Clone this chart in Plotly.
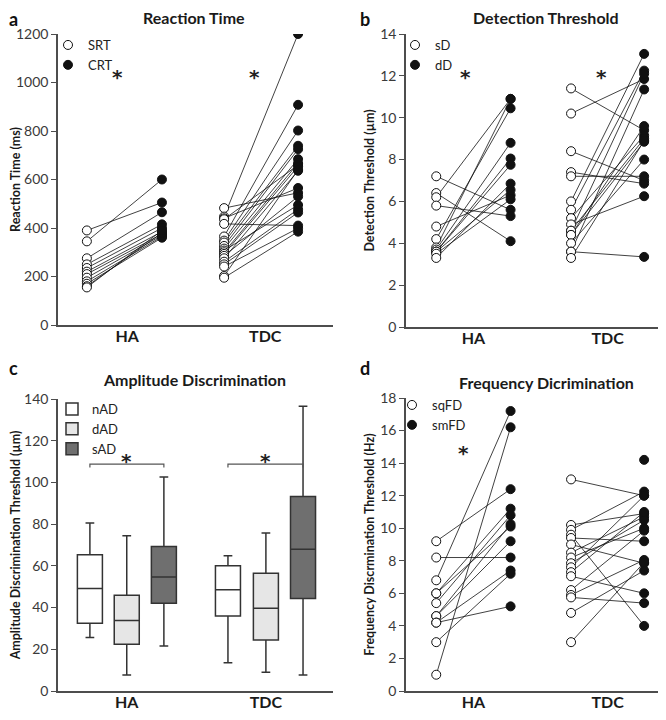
import plotly.graph_objects as go

# a: reaction time (ms), paired SRT -> CRT
srt_ha = [390, 345, 275, 250, 235, 220, 210, 195, 180, 170, 160, 155]
crt_ha = [505, 600, 465, 415, 400, 385, 375, 370, 365, 360, 380, 390]
srt_tdc = [482, 447, 440, 436, 417, 365, 348, 340, 326, 315, 307, 300, 293, 285, 275, 261, 250, 241, 202, 195]
crt_tdc = [545, 1200, 565, 660, 410, 908, 802, 739, 725, 684, 495, 667, 654, 530, 636, 477, 464, 399, 640, 385]

# b: detection threshold (um), paired sD -> dD
sd_ha = [7.2, 6.4, 6.2, 5.8, 4.8, 4.2, 3.8, 3.7, 3.6, 3.6, 3.6, 3.5, 3.3]
dd_ha = [5.6, 4.1, 10.9, 5.3, 6.3, 10.45, 10.9, 8.8, 8.05, 7.75, 6.55, 6.1, 6.85]
sd_tdc = [11.4, 10.2, 8.4, 7.4, 7.2, 6.0, 5.6, 5.2, 4.9, 4.6, 4.6, 4.4, 4.4, 4.0, 3.6, 3.6, 3.3]
dd_tdc = [9.4, 11.85, 7.0, 6.85, 7.2, 13.05, 12.25, 9.15, 6.25, 12.1, 9.0, 8.85, 9.6, 8.0, 11.35, 3.35, 8.9]

# c: amplitude discrimination (um) box summaries, [HA, TDC]
box_names = ["nAD", "dAD", "sAD"]
box_low = [[25.6, 13.6], [7.7, 9.0], [21.6, 7.7]]
box_q1 = [[32.5, 36.0], [22.4, 24.5], [42.1, 44.3]]
box_med = [[49.1, 48.5], [33.8, 39.7], [54.6, 68.0]]
box_q3 = [[65.3, 60.0], [45.9, 56.5], [69.3, 93.3]]
box_high = [[80.5, 64.8], [74.4, 75.7], [102.6, 136.5]]
box_fill = ["#ffffff", "#e6e6e6", "#6f6f6f"]

# d: frequency discrimination (Hz), paired sqFD -> smFD
sq_ha = [9.2, 8.2, 6.8, 6.0, 6.0, 5.4, 4.6, 4.6, 4.2, 4.2, 3.0, 1.0]
sm_ha = [12.4, 8.2, 17.2, 11.2, 10.1, 10.8, 9.2, 10.25, 7.4, 5.2, 7.2, 16.2]
sq_tdc = [13.0, 10.2, 9.9, 9.6, 9.4, 9.0, 8.5, 8.2, 7.85, 7.6, 7.3, 7.05, 6.2, 5.9, 5.75, 4.8, 3.0, None]
sm_tdc = [12.0, 10.9, 12.25, 4.0, 9.2, 7.85, 10.7, 10.0, 10.5, 12.0, 11.0, 6.0, 9.85, 8.05, 5.4, 7.4, 7.9, 14.2]

groups = ["HA", "TDC"]

FONT = "Lato, 'Open Sans', sans-serif"
AX = "#4d4d4d"

# page body has an 8px margin, so the figure is 16px smaller and coordinates shift by 8
OFF = 8
W, H = 666 - 2 * OFF, 720 - 2 * OFF


def px(x):
    return min(max((x - OFF) / W, 0), 1)


def py(y):
    return min(max((H - (y - OFF)) / H, 0), 1)


fig = go.Figure()

# x positions (fraction of each panel width)
pos_a = [0.105, 0.378, 0.604, 0.873]
pos_bd = [0.12, 0.415, 0.655, 0.945]


def paired(fig, xa, ya, pos, s_ha, c_ha, s_tdc, c_tdc, names, leg):
    lx, ly = [], []
    for x0, x1, a, b in [(pos[0], pos[1], s_ha, c_ha), (pos[2], pos[3], s_tdc, c_tdc)]:
        for s, c in zip(a, b):
            if s is None or c is None:
                continue
            lx += [x0, x1, None]
            ly += [s, c, None]
    fig.add_trace(go.Scatter(x=lx, y=ly, mode="lines", xaxis=xa, yaxis=ya,
                             line=dict(color="#111111", width=0.8), showlegend=False,
                             hoverinfo="skip"))
    sx = [pos[0]] * len(s_ha) + [pos[2]] * len(s_tdc)
    sy = list(s_ha) + list(s_tdc)
    cx = [pos[1]] * len(c_ha) + [pos[3]] * len(c_tdc)
    cy = list(c_ha) + list(c_tdc)
    fig.add_trace(go.Scatter(x=sx, y=sy, mode="markers", xaxis=xa, yaxis=ya, name=names[0],
                             marker=dict(size=9, color="white", line=dict(color="#111111", width=1)),
                             legend=leg))
    fig.add_trace(go.Scatter(x=cx, y=cy, mode="markers", xaxis=xa, yaxis=ya, name=names[1],
                             marker=dict(size=9, color="#111111", line=dict(color="#111111", width=1)),
                             legend=leg))


paired(fig, "x", "y", pos_a, srt_ha, crt_ha, srt_tdc, crt_tdc, ["SRT", "CRT"], "legend")
paired(fig, "x2", "y2", pos_bd, sd_ha, dd_ha, sd_tdc, dd_tdc, ["sD", "dD"], "legend2")
paired(fig, "x4", "y4", pos_bd, sq_ha, sm_ha, sq_tdc, sm_tdc, ["sqFD", "smFD"], "legend4")

# c: boxes
box_pos = [[0.116, 0.618], [0.25, 0.756], [0.385, 0.891]]
for i, nm in enumerate(box_names):
    fig.add_trace(go.Box(x=box_pos[i], q1=box_q1[i], median=box_med[i], q3=box_q3[i],
                         lowerfence=box_low[i], upperfence=box_high[i], name=nm,
                         xaxis="x3", yaxis="y3", width=0.091, whiskerwidth=0.35,
                         fillcolor=box_fill[i], line=dict(color="#333333", width=1.5),
                         boxpoints=False, legend="legend3"))

# brackets in c
for x0, x1 in [(box_pos[0][0], box_pos[2][0]), (box_pos[0][1], box_pos[2][1])]:
    fig.add_shape(type="path", xref="x3", yref="y3",
                  path=f"M {x0},107.2 L {x0},108.8 L {x1},108.8 L {x1},107.2",
                  line=dict(color="#555555", width=1.2))

dom = {
    "a": ([px(58), px(333)], [py(325), py(34)]),
    "b": ([px(406), px(663)], [py(327), py(34)]),
    "c": ([px(58), px(333)], [py(691), py(399)]),
    "d": ([px(406), px(663)], [py(691), py(398)]),
}
tick_a = [(pos_a[0] + pos_a[1]) / 2 + 0.01, (pos_a[2] + pos_a[3]) / 2 + 0.015]
tick_bd = [(pos_bd[0] + pos_bd[1]) / 2, (pos_bd[2] + pos_bd[3]) / 2]
tick_c = [box_pos[1][0], box_pos[1][1]]


def xax(d, ticks):
    return dict(domain=dom[d][0], range=[0, 1], showgrid=False, zeroline=False,
                showline=True, linecolor=AX, linewidth=1.5, ticks="", automargin=False,
                tickvals=ticks, ticktext=["<b>%s</b>" % g for g in groups],
                ticklabelstandoff=-4,
                tickfont=dict(family=FONT, size=16, color="#1a1a1a"))


def yax(d, rng, dt, title, anchor):
    return dict(domain=dom[d][1], range=rng, dtick=dt, showgrid=False, zeroline=False,
                showline=True, linecolor=AX, linewidth=1.5, ticks="outside", ticklen=5,
                tickcolor=AX, tickfont=dict(family=FONT, size=14, color="#3a3a3a"),
                automargin=False,
                title=dict(text="<b>%s</b>" % title, font=dict(family=FONT, size=12.5, color="#1a1a1a"),
                           standoff=3),
                anchor=anchor)


fig.update_layout(
    width=W, height=H, margin=dict(l=0, r=0, t=0, b=0, autoexpand=False),
    paper_bgcolor="white", plot_bgcolor="white",
    font=dict(family=FONT),
    xaxis=dict(xax("a", tick_a), anchor="y"),
    yaxis=yax("a", [0, 1200], 200, "Reaction Time (ms)", "x"),
    xaxis2=dict(xax("b", tick_bd), anchor="y2"),
    yaxis2=yax("b", [0, 14], 2, "Detection Threshold (µm)", "x2"),
    xaxis3=dict(xax("c", tick_c), anchor="y3"),
    yaxis3=yax("c", [0, 140], 20, "Amplitude Discrimination Threshold (µm)", "x3"),
    xaxis4=dict(xax("d", tick_bd), anchor="y4"),
    yaxis4=yax("d", [0, 18], 2, "Frequency Discrmination Threshold (Hz)", "x4"),
    boxmode="overlay",
)

legfont = dict(family=FONT, size=13, color="#222222")
for key, xp, yp in [("legend", 48, 30), ("legend2", 395, 30), ("legend3", 52, 394), ("legend4", 392, 390)]:
    fig.layout[key] = dict(x=px(xp), y=py(yp), xanchor="left", yanchor="top",
                           bgcolor="rgba(0,0,0,0)", font=legfont, itemwidth=30,
                           tracegroupgap=0, traceorder="normal")

ann = []
for txt, x, y in [("Reaction Time", 194, 18), ("Detection Threshold", 546, 18),
                  ("Amplitude Discrimination", 194, 380), ("Frequency Dicrimination", 546, 382)]:
    ann.append(dict(text="<b>%s</b>" % txt, x=px(x), y=py(y), xref="paper", yref="paper",
                    xanchor="center", yanchor="middle",
                    showarrow=False, font=dict(family=FONT, size=16, color="#1a1a1a")))
for txt, x, y in [("a", 13, 19), ("b", 365, 19), ("c", 13, 368), ("d", 365, 368)]:
    ann.append(dict(text="<b>%s</b>" % txt, x=px(x), y=py(y), xref="paper", yref="paper",
                    xanchor="center", yanchor="middle",
                    showarrow=False, font=dict(family=FONT, size=18, color="#111111")))
# significance stars
for xr, yr, x, y in [("x", "y", 0.215, 1043), ("x", "y", 0.713, 1043),
                     ("x2", "y2", 0.235, 12.2), ("x2", "y2", 0.775, 12.2),
                     ("x4", "y4", 0.227, 14.9),
                     ("x3", "y3", (box_pos[0][0] + box_pos[2][0]) / 2, 112.5),
                     ("x3", "y3", (box_pos[0][1] + box_pos[2][1]) / 2, 112.5)]:
    ann.append(dict(text="<b>*</b>", x=x, y=y, xref=xr, yref=yr, showarrow=False,
                    xanchor="center", yanchor="middle", yshift=-5,
                    font=dict(family="DejaVu Sans", size=20, color="#222222")))
fig.update_layout(annotations=ann)

fig.write_html("out.html")
